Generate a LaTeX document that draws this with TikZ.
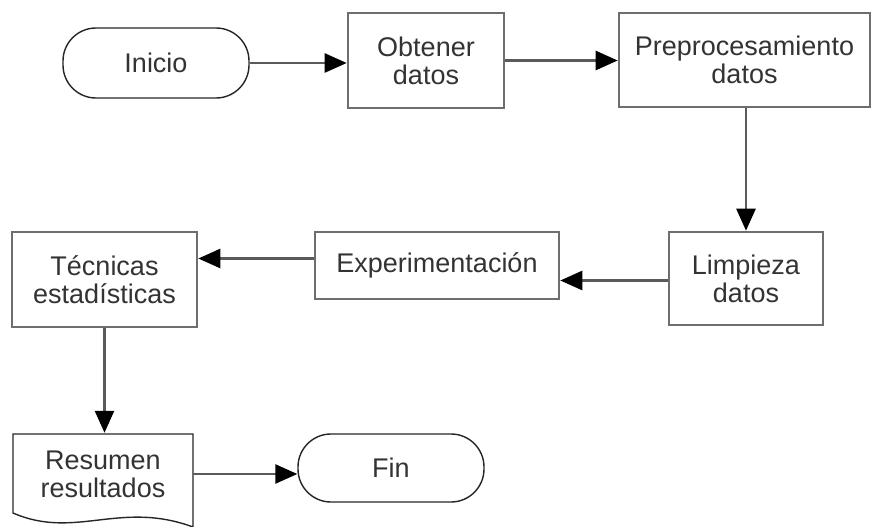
\documentclass[tikz,border=0pt]{standalone}
\usepackage{fontspec}
\setmainfont{Liberation Sans}
\usetikzlibrary{arrows.meta}
\definecolor{boxgray}{HTML}{6E6E6E}
\definecolor{linegray}{HTML}{5A5A5A}
\definecolor{txt}{HTML}{333333}
\begin{document}
\begin{tikzpicture}[x=1pt,y=-1pt,
  every node/.style={font=\fontsize{27}{28}\selectfont, text=txt, align=center, inner sep=0pt},
  procbox/.style={draw=boxgray, line width=2.6pt, fill=white, rectangle},
  termbox/.style={draw=black!85, line width=1.4pt, rectangle, rounded corners=33pt},
  conn/.style={draw=linegray, line width=2.6pt, -{Triangle[length=22pt,width=19pt,fill=black,color=black]}},
  ]
\useasboundingbox (0,0) rectangle (871,527);
\node[termbox, minimum width=186pt, minimum height=70pt] (ini) at (156,63) {Inicio};
\node[procbox, minimum width=156pt, minimum height=95pt] (obt) at (426,60.5) {Obtener\\datos};
\node[procbox, minimum width=251pt, minimum height=94pt] (pre) at (744.5,60) {Preprocesamiento\\datos};
\node[procbox, minimum width=154pt, minimum height=93pt] (lim) at (746,278.5) {Limpieza\\datos};
\node[procbox, minimum width=244pt, minimum height=67pt] (exp) at (437,265.5) {Experimentación};
\node[procbox, minimum width=185pt, minimum height=95pt] (tec) at (104.5,279.5) {Técnicas\\estadísticas};
\draw[black!85, line width=1.4pt, fill=white] (193,528) -- (193,434) -- (13,434) -- (13,513)
  .. controls (75,540) and (120,500) .. (193,527);
\node[minimum width=180pt, minimum height=82pt] (res) at (103,474) {Resumen\\resultados};
\node[termbox, minimum width=186pt, minimum height=68pt] (fin) at (391,468) {Fin};
\draw[conn] (ini.east) -- (ini.east -| obt.west);
\draw[conn] (obt.east) -- (obt.east -| pre.west);
\draw[conn] (lim.north |- pre.south) -- (lim.north);
\draw[conn] ([yshift=-2pt]lim.west) -- ([yshift=-2pt]lim.west -| exp.east);
\draw[conn] ([yshift=7pt]exp.west) -- ([yshift=7pt]exp.west -| tec.east);
\draw[conn] (tec.south) -- (tec.south |- res.north);
\draw[conn] (res.east) -- (res.east -| fin.west);
\end{tikzpicture}
\end{document}
